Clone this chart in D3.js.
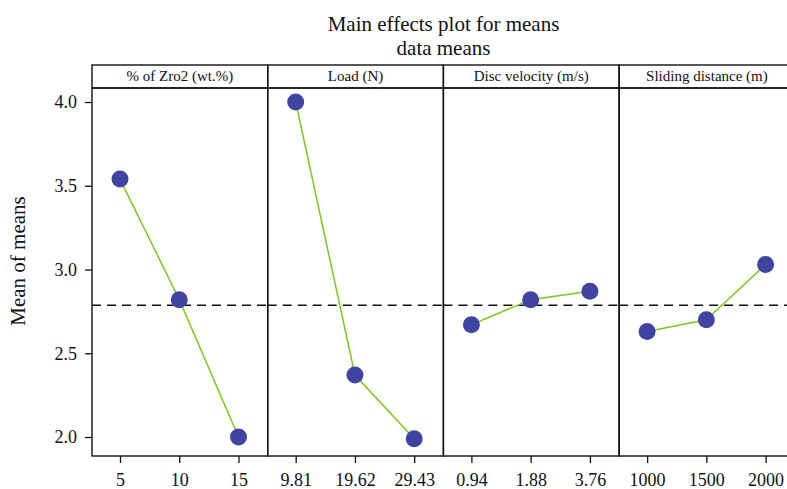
<!DOCTYPE html>
<html>
<head>
<meta charset="utf-8">
<script src="https://cdn.jsdelivr.net/npm/d3@7"></script>
<style>
  body { margin: 0; background: #fff; }
  svg { display: block; }
  text { font-family: "Liberation Serif", "DejaVu Serif", serif; fill: #111; }
</style>
</head>
<body>
<svg id="chart" width="787" height="489"></svg>
<script>
// Factors and their levels
const factors = ["% of Zro2 (wt.%)", "Load (N)", "Disc velocity (m/s)", "Sliding distance (m)"];
const levels = [
  ["5", "10", "15"],
  ["9.81", "19.62", "29.43"],
  ["0.94", "1.88", "3.76"],
  ["1000", "1500", "2000"]
];
// Mean response at each level
const means = [
  [3.54, 2.82, 2.00],
  [4.00, 2.37, 1.99],
  [2.67, 2.82, 2.87],
  [2.63, 2.70, 3.03]
];
const yTicks = [2.0, 2.5, 3.0, 3.5, 4.0];
const grandMean = 2.787;

const svg = d3.select("#chart");
const plotLeft = 92, plotTop = 88, plotBottom = 456, stripTop = 65;
const panelW = 175.7;

const y = d3.scaleLinear().domain([1.8866, 4.0836]).range([plotBottom, plotTop]);

// Titles
svg.append("text").attr("x", 443.5).attr("y", 31).attr("text-anchor", "middle")
  .style("font-size", "21px").text("Main effects plot for means");
svg.append("text").attr("x", 443.5).attr("y", 55).attr("text-anchor", "middle")
  .style("font-size", "21px").text("data means");
svg.append("text").attr("transform", "translate(25,261) rotate(-90)")
  .attr("text-anchor", "middle").style("font-size", "21px").text("Mean of means");

// Y axis
const yAxis = svg.append("g").attr("transform", `translate(${plotLeft},0)`)
  .call(d3.axisLeft(y).tickValues(yTicks).tickFormat(d3.format(".1f")).tickSize(7).tickPadding(8));
yAxis.select(".domain").remove();
yAxis.selectAll("line").attr("stroke", "#111").attr("stroke-width", 1.3);
yAxis.selectAll("text").style("font-size", "18px");

factors.forEach((name, i) => {
  const x0 = plotLeft + i * panelW;
  const x = d3.scalePoint().domain(levels[i]).range([x0 + 28, x0 + 146.5]);
  const g = svg.append("g");

  // strip header
  g.append("rect").attr("x", x0).attr("y", stripTop).attr("width", panelW)
    .attr("height", plotTop - stripTop).attr("fill", "none").attr("stroke", "#111").attr("stroke-width", 1.4);
  g.append("text").attr("x", x0 + panelW / 2).attr("y", 81).attr("text-anchor", "middle")
    .style("font-size", "15px").text(name);

  // panel frame
  g.append("rect").attr("x", x0).attr("y", plotTop).attr("width", panelW)
    .attr("height", plotBottom - plotTop).attr("fill", "none").attr("stroke", "#111").attr("stroke-width", 1.4);

  // x axis
  const xa = svg.append("g").attr("transform", `translate(0,${plotBottom})`)
    .call(d3.axisBottom(x).tickSize(7).tickPadding(10));
  xa.select(".domain").remove();
  xa.selectAll("line").attr("stroke", "#111").attr("stroke-width", 1.3);
  xa.selectAll("text").style("font-size", "18px");

  // reference line at the grand mean
  g.append("line").attr("x1", x0).attr("x2", x0 + panelW)
    .attr("y1", y(grandMean)).attr("y2", y(grandMean))
    .attr("stroke", "#111").attr("stroke-width", 1.4).attr("stroke-dasharray", "9,6");

  const pts = levels[i].map((l, j) => [x(l), y(means[i][j])]);
  g.append("path").attr("d", d3.line()(pts)).attr("fill", "none")
    .attr("stroke", "#7ec81e").attr("stroke-width", 1.5);
  g.selectAll("circle").data(pts).join("circle")
    .attr("cx", d => d[0]).attr("cy", d => d[1]).attr("r", 8.5).attr("fill", "#3f44a2");
});
</script>
</body>
</html>
